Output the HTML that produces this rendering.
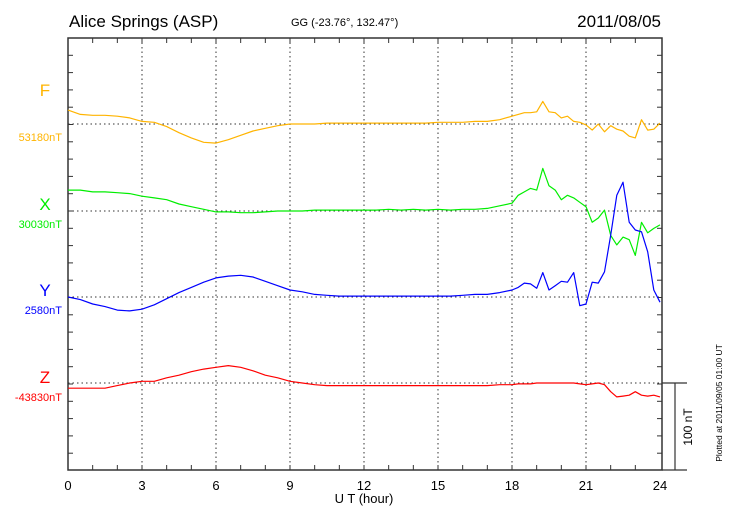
<!DOCTYPE html>
<html><head><meta charset="utf-8"><style>
html,body{margin:0;padding:0;background:#fff}
svg{display:block;font-family:"Liberation Sans",sans-serif}
</style></head><body>
<svg id="chart" width="730" height="520"></svg>
<script>
const hours=[0,0.5,1,1.5,2,2.5,3,3.5,4,4.5,5,5.5,6,6.5,7,7.5,8,8.5,9,9.5,10,10.5,11,11.5,12,12.5,13,13.5,14,14.5,15,15.5,16,16.5,17,17.5,18,18.25,18.5,18.75,19,19.25,19.5,19.75,20,20.25,20.5,20.75,21,21.25,21.5,21.75,22,22.25,22.5,22.75,23,23.25,23.5,23.75,24];
const fValues=[16,11,10,10,9,7,3,2,-3,-10,-16,-21,-22,-18,-13,-8,-5,-2,0,0,0,1,1,1,1,1,1,1,1,1,2,2,2,3,3,5,9,11,13,13,14,26,14,13,7,9,3,2,-1,-7,0,-9,-2,-6,-8,-14,-16,5,-7,-6,1];
const xValues=[24,24,22,22,21,20,17,15,13,8,5,2,-1,-1,-2,-2,-1,0,0,0,1,1,1,1,1,1,2,1,2,1,2,1,2,2,3,6,9,18,22,26,24,49,29,24,13,18,15,10,5,-13,-8,1,-28,-39,-30,-33,-51,-13,-25,-20,-16];
const yValues=[0,-3,-8,-11,-15,-16,-14,-9,-2,5,11,17,22,24,25,23,18,13,8,6,3,2,1,1,1,1,1,1,1,1,1,1,2,3,3,5,8,11,16,15,10,28,8,13,18,17,28,-10,-8,17,16,29,71,117,132,86,77,75,52,8,-6];
const zValues=[-6,-6,-6,-6,-3,0,2,2,6,9,13,16,18,20,18,14,9,6,2,0,-2,-3,-3,-3,-3,-3,-3,-3,-3,-3,-3,-3,-3,-3,-3,-2,-2,-1,-1,-1,0,0,0,0,0,0,0,-1,-2,-1,0,-2,-10,-16,-15,-14,-10,-14,-15,-14,-16];
const seriesNames=["F","X","Y","Z"];
const seriesBaselines=["53180nT","30030nT","2580nT","-43830nT"];
const xTickLabels=["0","3","6","9","12","15","18","21","24"];
const xTickValues=[0,3,6,9,12,15,18,21,24];

const NS="http://www.w3.org/2000/svg";
const svg=document.getElementById('chart');
const L=68,R=660,T=38,B=470,PXNT=0.87;
const baseY=[124,211,297,383];
const labelY=[96,210,296,383];
const valueY=[141,228,314,401];
const colors=["#ffb400","#00ee00","#0000ff","#ff0000"];
const xs=h=>L+(R-L)*h/24;
const ys=(i,v)=>baseY[i]-v*PXNT;
function mk(tag,attrs,txt){const e=document.createElementNS(NS,tag);for(const k in attrs)e.setAttribute(k,attrs[k]);if(txt!==undefined)e.textContent=txt;svg.appendChild(e);return e;}

let e=mk('rect',{x:L,y:T,width:R-L+2,height:B-T,fill:'none',stroke:'#333','stroke-width':1.5});


for(const h of [3,6,9,12,15,18,21]){
  e=mk('line',{x1:xs(h),x2:xs(h),y1:T,y2:B,stroke:'#333','stroke-dasharray':'1.5,3','stroke-width':1});
  
  
}
for(let h=1;h<24;h++){
  e=mk('line',{x1:xs(h),x2:xs(h),y1:B,y2:B-5,stroke:'#333'});
  
  
  e=mk('line',{x1:xs(h),x2:xs(h),y1:T,y2:T+5,stroke:'#333'});
  
  
}
for(let k=1;k<25;k++){
  const y=T+k*17.3; if(y>=B-1)break;
  e=mk('line',{x1:L,x2:L+5,y1:y,y2:y,stroke:'#333'});
  
  
  e=mk('line',{x1:R+2,x2:R-3,y1:y,y2:y,stroke:'#333'});
  
  
}
for(let i=0;i<4;i++){
  e=mk('line',{x1:L,x2:R,y1:baseY[i],y2:baseY[i],stroke:'#333','stroke-dasharray':'1.5,3'});
  
  
}
const all=[fValues,xValues,yValues,zValues];
for(let i=0;i<4;i++){
  const d=hours.map((h,j)=>(j?'L':'M')+xs(h).toFixed(1)+','+ys(i,all[i][j]).toFixed(1)).join('');
  e=mk('path',{d:d,fill:'none',stroke:colors[i],'stroke-width':1.2,'stroke-linejoin':'round'});
  
  
  e=mk('text',{x:45,y:labelY[i],fill:colors[i],'font-size':17,'text-anchor':'middle'},seriesNames[i]);
  
  
  e=mk('text',{x:62,y:valueY[i],fill:colors[i],'font-size':11,'text-anchor':'end'},seriesBaselines[i]);
  
  
}
for(let k=0;k<xTickValues.length;k++){
  e=mk('text',{x:xs(xTickValues[k]),y:490,'font-size':13,'text-anchor':'middle',fill:'#000'},xTickLabels[k]);
  
  
}
e=mk('text',{x:364,y:503,'font-size':13,'text-anchor':'middle'},'U T (hour)');


e=mk('text',{x:69,y:27,'font-size':17},'Alice Springs (ASP)');


e=mk('text',{x:291,y:26,'font-size':11},'GG (-23.76°, 132.47°)');


e=mk('text',{x:661,y:27,'font-size':17,'text-anchor':'end'},'2011/08/05');


e=mk('path',{d:'M662,383H687M675,383V470M662,470H687',stroke:'#333',fill:'none','stroke-width':1.2});


e=mk('text',{x:0,y:0,'font-size':12,'text-anchor':'middle',transform:'translate(692,427) rotate(-90)'},'100 nT');


e=mk('text',{x:0,y:0,'font-size':8.5,'text-anchor':'middle',transform:'translate(722,403) rotate(-90)'},'Plotted at 2011/09/05 01:00 UT');


</script>
</body></html>
